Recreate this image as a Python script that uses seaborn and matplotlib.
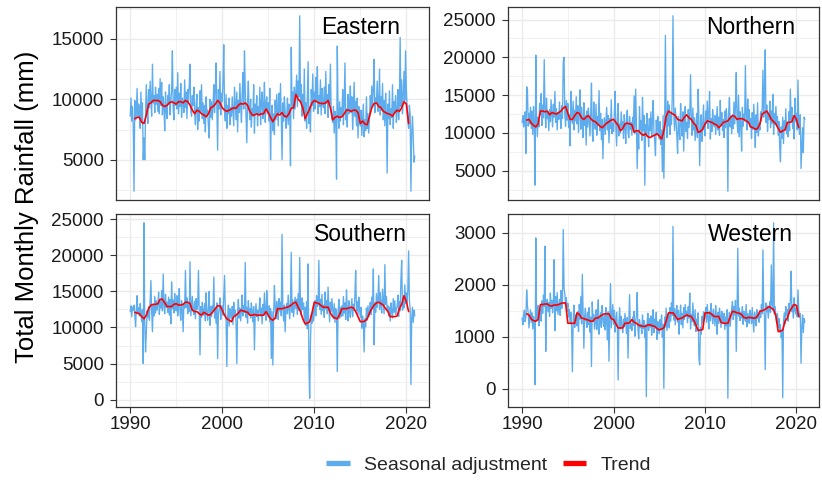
import numpy as np
import pandas as pd
import matplotlib
matplotlib.use("Agg")
import matplotlib.pyplot as plt
import matplotlib.dates as mdates
from matplotlib.ticker import MultipleLocator, FuncFormatter
from matplotlib.lines import Line2D
import seaborn as sns

# ---------------- data ----------------
regions = ["Eastern", "Northern", "Southern", "Western"]
series_labels = ["Seasonal adjustment", "Trend"]

# monthly seasonally adjusted rainfall, one row per year 1990..2020
eastern_sa = [
    [8600, 10100, 8200, 9400, 7800, 2400, 9900, 8300, 8800, 10900, 8500, 9600],
    [9200, 7600, 10600, 8300, 9700, 5000, 6800, 5000, 8700, 11200, 9100, 8000],
    [10800, 9300, 11500, 9800, 8600, 12900, 9700, 10300, 8900, 11000, 9600, 10400],
    [9000, 10900, 8800, 11700, 9500, 11400, 8700, 10200, 9300, 7400, 10600, 9100],
    [8400, 10300, 9600, 11200, 8700, 9900, 10700, 14000, 9200, 8300, 10800, 9500],
    [11000, 9200, 12200, 8800, 10500, 9400, 11300, 8500, 10100, 9700, 8900, 11600],
    [9300, 10600, 8400, 10800, 9800, 11200, 12900, 9000, 8600, 10300, 9500, 11000],
    [8800, 7900, 9600, 10400, 7500, 9300, 8200, 10700, 9000, 11200, 8400, 9700],
    [8000, 9500, 7300, 10200, 8700, 9100, 7700, 6800, 10000, 8500, 9800, 8300],
    [9600, 11200, 8900, 10600, 13000, 9400, 5800, 10800, 9200, 12300, 8700, 10500],
    [9800, 11600, 14500, 9000, 8200, 10400, 7600, 9500, 8800, 10100, 7900, 9300],
    [8600, 10200, 9100, 7800, 11000, 9600, 8300, 10600, 7300, 9900, 8900, 11300],
    [9400, 8100, 10500, 12200, 9200, 14000, 10800, 8700, 6400, 9800, 11500, 9100],
    [8300, 10000, 7700, 9200, 8600, 11200, 7200, 9600, 8900, 10300, 7800, 9400],
    [8700, 11000, 7900, 9800, 10600, 8400, 9300, 11400, 8100, 9600, 10200, 8800],
    [9700, 8200, 10900, 5000, 8600, 9500, 7400, 8800, 7100, 9900, 8300, 10400],
    [9100, 7800, 10500, 8900, 11300, 8400, 5000, 9700, 8200, 10200, 9000, 7600],
    [8500, 10100, 7900, 9600, 8800, 4500, 14300, 9300, 10600, 8400, 11000, 9200],
    [10700, 12000, 9400, 11500, 10200, 16900, 9800, 11200, 8600, 10400, 9100, 12500],
    [8200, 9700, 7600, 10300, 13100, 8000, 9400, 7300, 10800, 9500, 12100, 9000],
    [10600, 9200, 11800, 9900, 12700, 8800, 10300, 9400, 11600, 8700, 10900, 9600],
    [9300, 11000, 8800, 12300, 9700, 10400, 8500, 11200, 9600, 12900, 9100, 8400],
    [8100, 9400, 7200, 9000, 8400, 3400, 14400, 8900, 7600, 9800, 8200, 9300],
    [8700, 10800, 7900, 9500, 13000, 8300, 9200, 7700, 10400, 8800, 9600, 11100],
    [8900, 10200, 7500, 9300, 11400, 8600, 9800, 7800, 10100, 6800, 9400, 8500],
    [7800, 9100, 7000, 8400, 9600, 6900, 8300, 7400, 10200, 7600, 8800, 7200],
    [8600, 10300, 9200, 11100, 9500, 10800, 13300, 8900, 10100, 9700, 11500, 9000],
    [9400, 12500, 8700, 10200, 9100, 11300, 8300, 9900, 7800, 10500, 8600, 3900],
    [9600, 8400, 10700, 7900, 9200, 8500, 11200, 7600, 9800, 8900, 10300, 8100],
    [9000, 10800, 8300, 9700, 15100, 9400, 11600, 8800, 10200, 12300, 9900, 14000],
    [10900, 9300, 8200, 7600, 9500, 8800, 2400, 7200, 8600, 6900, 4800, 5300],
]
northern_sa = [
    [11400, 12300, 10800, 11900, 12800, 7300, 16100, 15800, 10900, 12600, 11200, 13400],
    [10600, 12900, 9800, 13500, 11100, 3100, 20300, 11700, 9500, 12100, 10800, 13900],
    [12400, 15200, 11000, 13700, 12000, 19700, 13200, 10700, 14600, 11900, 12800, 10300],
    [13100, 11500, 14400, 12600, 10800, 13800, 12100, 15500, 11400, 13200, 10400, 12700],
    [11800, 14100, 12300, 10600, 13600, 11900, 19400, 20000, 12500, 10900, 14300, 11700],
    [13900, 10700, 12400, 8300, 15500, 12800, 11300, 14200, 10400, 13000, 11600, 14800],
    [11200, 13600, 10100, 12700, 15700, 10500, 13400, 11800, 9400, 14000, 11000, 12300],
    [8400, 12900, 10800, 13300, 11700, 9600, 12500, 16600, 10200, 8900, 14100, 11300],
    [10500, 13800, 9700, 12200, 11100, 15600, 10300, 12600, 9100, 11800, 6600, 10900],
    [12000, 9800, 11600, 13400, 10400, 12300, 8700, 11900, 10600, 14400, 9900, 11300],
    [10200, 12600, 15500, 10800, 8300, 11700, 13900, 9600, 11200, 10000, 12800, 10700],
    [11500, 9300, 12400, 10900, 8600, 11800, 13000, 10100, 9400, 12200, 10500, 11400],
    [9700, 12100, 10600, 14900, 9900, 15800, 11300, 5300, 10100, 7900, 13500, 10400],
    [11600, 9000, 14700, 10300, 12300, 3100, 11100, 9600, 12600, 10700, 8200, 11900],
    [10300, 12800, 9500, 11400, 14300, 10100, 8900, 7000, 11700, 9800, 12200, 10500],
    [9200, 11500, 8500, 10400, 4900, 12300, 4000, 10600, 22900, 11800, 9400, 14200],
    [10900, 13700, 9800, 12500, 11100, 14600, 25500, 12700, 10300, 13300, 11500, 9700],
    [7300, 12200, 10400, 9100, 13900, 11200, 9600, 12800, 7600, 11500, 13500, 10200],
    [11400, 9300, 13100, 10700, 12500, 17700, 11900, 9700, 13300, 10400, 12000, 9000],
    [10800, 12600, 9400, 15800, 11700, 5700, 10300, 12400, 8900, 11100, 13700, 10500],
    [9600, 12900, 11300, 14200, 10600, 12400, 15500, 9200, 11900, 10200, 13100, 11400],
    [10900, 12300, 9800, 11600, 13500, 10400, 12100, 9700, 14300, 11000, 12700, 10300],
    [11800, 9400, 12900, 10700, 13200, 11500, 2300, 12600, 14700, 10800, 12200, 9900],
    [12400, 10600, 14100, 11200, 13600, 18000, 11700, 10100, 15000, 9500, 12800, 11300],
    [7600, 13400, 10900, 12500, 11600, 18900, 12200, 10400, 14500, 11500, 13100, 10800],
    [11900, 9300, 12700, 10500, 13800, 11200, 8100, 12400, 10100, 14000, 9600, 11300],
    [10400, 12800, 11600, 13300, 18300, 12100, 15400, 21000, 11400, 13700, 10200, 12500],
    [11800, 14200, 10700, 12900, 11300, 15100, 9800, 12600, 11100, 13500, 10900, 12200],
    [9700, 11500, 8200, 6200, 10800, 9300, 12100, 8600, 11600, 10400, 13200, 9900],
    [11200, 9500, 12800, 10300, 15800, 11700, 13400, 10600, 12300, 9200, 14600, 11500],
    [12600, 10400, 17000, 11300, 9800, 12400, 5300, 8100, 10700, 7400, 12100, 11800],
]
southern_sa = [
    [12200, 13000, 11500, 12800, 12400, 13100, 11800, 10100, 12600, 14400, 11900, 12700],
    [11600, 13300, 12000, 10800, 12500, 5000, 24500, 10700, 6600, 9200, 12300, 11400],
    [12900, 11000, 13500, 16500, 12200, 9400, 13100, 11600, 14300, 12000, 13700, 12400],
    [13200, 14900, 11800, 13600, 12700, 15100, 12300, 17400, 13000, 11900, 14600, 12800],
    [13500, 12100, 14200, 11700, 13900, 10500, 16300, 12600, 13800, 12000, 14700, 12900],
    [12300, 14400, 11600, 13200, 15400, 12100, 11000, 13700, 12500, 9400, 13300, 12700],
    [17900, 12800, 14100, 11900, 13400, 12200, 19100, 11600, 13000, 14300, 12400, 11800],
    [13600, 11200, 14000, 12500, 13100, 17900, 12000, 6200, 12900, 11400, 13500, 12100],
    [11700, 13300, 10900, 14800, 12200, 11000, 12700, 15000, 10300, 12900, 11500, 13000],
    [12400, 17000, 11300, 12800, 10600, 13400, 5700, 11900, 12600, 14100, 11100, 12900],
    [13000, 11700, 14200, 17200, 12300, 10900, 4600, 11500, 13100, 10200, 12600, 11800],
    [11200, 12900, 10400, 13500, 11800, 12400, 10700, 5000, 12200, 13900, 11300, 12700],
    [10900, 12400, 14500, 11600, 13000, 12100, 19000, 11400, 12800, 10600, 13700, 12000],
    [12600, 11300, 13400, 12200, 10800, 12900, 6900, 11800, 13300, 11500, 12400, 10900],
    [12300, 14100, 11600, 12700, 10500, 13200, 11900, 14800, 12100, 11000, 15100, 12500],
    [11400, 13000, 10800, 12600, 5700, 12200, 4800, 11700, 15800, 12900, 11200, 13600],
    [12500, 11100, 14000, 12300, 13500, 11600, 22900, 12800, 10900, 13100, 9400, 12400],
    [13300, 11900, 14500, 12700, 11200, 13600, 20400, 12100, 13800, 11500, 12900, 14200],
    [12600, 13900, 11800, 14700, 12400, 19700, 13000, 11700, 14100, 12500, 13400, 11000],
    [12800, 10300, 13600, 9800, 18800, 5000, 200, 8000, 11700, 10600, 12700, 10900],
    [12200, 13700, 11600, 14400, 12900, 13200, 19300, 12500, 13900, 11800, 14600, 12300],
    [13100, 11400, 14900, 12600, 13700, 11900, 15600, 12800, 10800, 13500, 12200, 14000],
    [12400, 11200, 13300, 10700, 12600, 11800, 3900, 12100, 13900, 11300, 12800, 11500],
    [13000, 11600, 14300, 12000, 13400, 11100, 15200, 12500, 10900, 13700, 12200, 11400],
    [12700, 14000, 11500, 13200, 12400, 14600, 17900, 12300, 13600, 11800, 14200, 12600],
    [11400, 12800, 9900, 11600, 10500, 6600, 11200, 10100, 12700, 11000, 13000, 11500],
    [12300, 13500, 11800, 14200, 12600, 18100, 7600, 13400, 12100, 14700, 12800, 13900],
    [17200, 12500, 14800, 13100, 12000, 15300, 13600, 11900, 18700, 13200, 14300, 12400],
    [13000, 11600, 12800, 10900, 13400, 12200, 11300, 14000, 12100, 13700, 11800, 12600],
    [12900, 14500, 11500, 13600, 12300, 16800, 19300, 12400, 14100, 12700, 15900, 13300],
    [14800, 13400, 15200, 20600, 13800, 12500, 2100, 11200, 12800, 10700, 12400, 11600],
]
western_sa = [
    [1360, 1230, 1420, 1510, 1290, 1380, 1900, 1600, 1450, 1170, 1340, 1520],
    [1280, 1460, 1150, 1390, 1240, 80, 2900, 1330, 1480, 1600, 1210, 1380],
    [1520, 1300, 1690, 1450, 1800, 1580, 2740, 720, 1610, 1720, 1480, 1660],
    [1390, 1840, 1550, 1700, 1460, 1620, 2480, 1120, 1770, 1500, 1850, 1430],
    [1580, 1720, 1410, 1890, 1540, 1680, 3060, 1940, 1830, 1600, 1750, 1490],
    [1640, 1380, 1520, 1250, 1470, 1150, 330, 1300, 1610, 1180, 1420, 1360],
    [1210, 1480, 1100, 1620, 1340, 1770, 1250, 2200, 1460, 780, 1390, 1550],
    [1320, 1180, 1470, 1240, 1560, 1090, 1380, 430, 1670, 1300, 1430, 1150],
    [1260, 1520, 1140, 1380, 1710, 1050, 1290, 1460, 1180, 1600, 1340, 1200],
    [1410, 1130, 1560, 1290, 940, 1480, 530, 1350, 2020, 1170, 1400, 1620],
    [1240, 1510, 1090, 1330, 1470, 1180, 170, 1260, 1560, 1150, 1390, 1220],
    [1080, 1340, 1190, 1450, 1260, 1060, 1370, 590, 1290, 1810, 1160, 1250],
    [1120, 1380, 1220, 1490, 1010, 1290, 1410, 1850, 1140, 960, 1330, 1180],
    [1240, 1060, 1420, 1160, 1310, 980, 1230, -150, 1280, 1450, 1120, 1350],
    [1190, 1400, 1030, 1260, 1520, 1080, 1340, 1170, 1470, 950, 1290, 1210],
    [1060, 1330, 1150, 1420, 990, 1240, 10, 1380, 1190, 1550, 1120, 1280],
    [1430, 1170, 1560, 1300, 1650, 1410, 3120, 1320, 1540, 1230, 1470, 1600],
    [1280, 1510, 1050, 1390, 1610, 1240, 1450, 1170, 1560, 1330, 1620, 1400],
    [1490, 1270, 1580, 1360, 1840, 1150, 1430, 1290, 1650, 1380, 1210, 1520],
    [1100, 1340, 1230, 1460, 590, 460, 1180, 1050, 1390, 1270, 1480, 1320],
    [1410, 1560, 1280, 1620, 1370, 1150, 1490, 1310, 1640, 1420, 1250, 1530],
    [1380, 1210, 1600, 1340, 1050, 1470, 1260, 1550, 1410, 1180, 1490, 1330],
    [1260, 1450, 1140, 1380, 1210, 1520, -180, 1310, 1470, 1200, 1390, 1550],
    [1680, 1330, 1580, 1420, 1700, 720, 1450, 2700, 1400, 1550, 1310, 1470],
    [1360, 1580, 1240, 1490, 1410, 1300, 1620, 1190, 1450, 1370, 1260, 1510],
    [1430, 1250, 1560, 1320, 1090, 1470, 1380, 1210, 1520, 1350, 1440, 1280],
    [1500, 1370, 1620, 1440, 2670, 1550, 1400, 370, 1650, 1480, 1590, 1360],
    [1530, 1680, 1470, 2380, 1620, 1510, 3190, 1440, 1580, 1390, 1260, 1450],
    [1180, 1350, 1090, 1230, 980, 1120, -170, 1300, 1460, 1250, 1580, 1400],
    [1520, 1300, 1640, 1450, 1700, 2260, 1480, 1610, 1360, 1750, 1520, 1440],
    [1560, 1380, 1900, 1510, 1370, 1450, 490, 1190, 1420, 1080, 1350, 1280],
]

# quarterly trend readings, Jul 1990 .. Apr 2020
eastern_trend = [
    8400, 8500,
    8500, 8100, 8000, 8700,  9600, 9700, 9900, 9900,  9900, 9800, 9500, 9400,
    9500, 9700, 9800, 9700,  9600, 9800, 9800, 9700,  9900, 9800, 9500, 9100,
    8800, 9100, 9000, 8800,  8700, 8550, 8800, 9300,  9400, 9600, 9900, 9700,
    9300, 9100, 9000, 9100,  9200, 9300, 9250, 9500,  9650, 9600, 9700, 9500,
    9000, 8700, 8700, 8800,  8700, 8800, 8800, 9200,  8900, 8500, 8150, 8500,
    8800, 8700, 8900, 8600,  8550, 8800, 9250, 9300,  10400, 10000, 9800, 9300,
    8400, 8800, 9200, 9700,  9900, 9800, 9700, 9650,  9650, 9700, 9900, 9300,
    8300, 8500, 8600, 8500,  8550, 8800, 9100, 9100,  9000, 9100, 9100, 8900,
    8000, 8200, 7950, 7900,  8600, 9300, 9650, 9700,  9400, 9300, 9000, 8900,
    8800, 8750, 8600, 8900,  9100, 9000, 9300, 9800,
    9600, 8000,
]
northern_trend = [
    11700, 11800,
    11300, 11000, 10800, 11200,  12900, 12900, 12800, 12900,  12400, 12700, 12600, 12500,
    12700, 12900, 13300, 13500,  12600, 11800, 11800, 12300,  12700, 12600, 12000, 11800,
    12100, 12300, 11900, 11600,  11500, 11200, 10900, 10700,  11000, 11300, 11500, 11700,
    11800, 11400, 11000, 10300,  10600, 11200, 11300, 11200,  11100, 10100, 10300, 10300,
    9900, 9700, 9900, 9500,  9400, 9600, 9700, 9900,  9600, 9200, 10300, 12200,
    12900, 12700, 12500, 12300,  11800, 11700, 11600, 12100,  12400, 12000, 11800, 11300,
    11000, 10100, 10200, 10500,  11200, 11600, 11500, 11400,  11200, 11100, 10700, 11000,
    11400, 11500, 11600, 12000,  12300, 12200, 11800, 11900,  11900, 11800, 11600, 11400,
    10800, 10700, 10500, 10600,  11200, 12500, 12700, 12900,  12400, 11800, 11500, 11200,
    10600, 10100, 10300, 10400,  11400, 11400, 11500, 12300,
    11800, 10700,
]
southern_trend = [
    12100, 12000,
    11900, 11500, 11200, 11700,  12600, 13100, 13200, 13200,  13300, 13900, 13900, 13400,
    12900, 12900, 12900, 13200,  13300, 13100, 13100, 13200,  13500, 13500, 13300, 12400,
    12200, 12200, 11900, 11700,  12100, 11900, 11700, 11800,  12200, 12600, 13000, 13000,
    12400, 11700, 11200, 11000,  10800, 11500, 11700, 12000,  12400, 12300, 12200, 12100,
    11700, 11700, 11800, 11700,  11700, 11700, 11700, 12200,  11700, 11200, 11000, 11300,
    12600, 12600, 12600, 12700,  12800, 12900, 13100, 13400,  13500, 12800, 12200, 11200,
    10500, 10600, 10800, 12000,  13500, 13400, 13300, 13000,  12800, 12800, 12800, 12000,
    11500, 11300, 11200, 11800,  12600, 12600, 12600, 12700,  12800, 12700, 12200, 11500,
    10800, 10800, 10900, 11200,  12000, 12600, 13100, 13400,  13500, 13300, 13100, 12600,
    12200, 11500, 11500, 11500,  11600, 12600, 13200, 14400,
    13600, 12200,
]
western_trend = [
    1440, 1420,
    1340, 1310, 1300, 1330,  1620, 1620, 1630, 1630,  1600, 1590, 1610, 1610,
    1620, 1640, 1650, 1650,  1260, 1260, 1260, 1260,  1460, 1430, 1360, 1350,
    1330, 1320, 1300, 1300,  1360, 1360, 1390, 1420,  1440, 1440, 1440, 1350,
    1330, 1250, 1170, 1170,  1170, 1260, 1260, 1270,  1330, 1280, 1260, 1220,
    1210, 1200, 1200, 1230,  1230, 1210, 1200, 1160,  1130, 1150, 1170, 1300,
    1460, 1460, 1460, 1400,  1330, 1350, 1360, 1390,  1420, 1400, 1390, 1320,
    1230, 1120, 1130, 1140,  1460, 1460, 1460, 1430,  1390, 1390, 1390, 1280,
    1260, 1260, 1260, 1380,  1490, 1480, 1460, 1450,  1430, 1370, 1360, 1370,
    1370, 1360, 1360, 1400,  1490, 1500, 1520, 1550,  1580, 1550, 1520, 1400,
    1100, 1110, 1130, 1300,  1360, 1490, 1560, 1620,
    1600, 1390,
]

sa_values = {"Eastern": eastern_sa, "Northern": northern_sa,
             "Southern": southern_sa, "Western": western_sa}
trend_values = {"Eastern": eastern_trend, "Northern": northern_trend,
                "Southern": southern_trend, "Western": western_trend}
y_major = {"Eastern": 5000, "Northern": 5000, "Southern": 5000, "Western": 1000}

month_dates = pd.date_range("1990-01-01", "2020-12-01", freq="MS")
trend_dates = pd.date_range("1990-07-01", "2020-04-01", freq="3MS")

frames = []
for r in regions:
    frames.append(pd.DataFrame({"region": r, "date": month_dates,
                                "value": np.array(sa_values[r]).ravel(),
                                "component": series_labels[0]}))
    frames.append(pd.DataFrame({"region": r, "date": trend_dates,
                                "value": trend_values[r],
                                "component": series_labels[1]}))
df = pd.concat(frames, ignore_index=True)

# ---------------- styling ----------------
sns.set_theme(style="white")
plt.rcParams["font.family"] = ["Liberation Sans", "DejaVu Sans"]

BLUE = "#5CACEE"
RED = "#FF0000"
palette = {series_labels[0]: BLUE, series_labels[1]: RED}
GRID = "#EBEBEB"
DARK = "#333333"

W, H = 822, 480
fig = plt.figure(figsize=(W / 100, H / 100), dpi=100)

boxes = {  # left, right, top, bottom in pixels
    "Eastern": (116, 429, 7, 200),
    "Northern": (508, 819, 7, 200),
    "Southern": (116, 429, 214, 407),
    "Western": (508, 819, 214, 407),
}

for r in regions:
    l, rr, t, b = boxes[r]
    ax = fig.add_axes([l / W, 1 - b / H, (rr - l) / W, (b - t) / H])
    sub = df[df.region == r]
    sns.lineplot(data=sub, x="date", y="value", hue="component",
                 hue_order=series_labels, palette=palette, estimator=None,
                 legend=False, ax=ax, linewidth=0.95)
    for ln, lw in zip(ax.get_lines(), [0.95, 1.2]):
        ln.set_linewidth(lw)
    ax.margins(x=0.05, y=0.05)
    ax.set_xlabel("")
    ax.set_ylabel("")
    ax.xaxis.set_major_locator(mdates.YearLocator(10))
    ax.xaxis.set_minor_locator(mdates.YearLocator(5))
    ax.xaxis.set_major_formatter(mdates.DateFormatter("%Y"))
    ax.yaxis.set_major_locator(MultipleLocator(y_major[r]))
    ax.yaxis.set_minor_locator(MultipleLocator(y_major[r] / 2))
    ax.yaxis.set_major_formatter(FuncFormatter(lambda v, p: f"{int(round(v))}"))
    ax.set_axisbelow(True)
    ax.grid(which="major", color=GRID, linewidth=1.0)
    ax.grid(which="minor", color=GRID, linewidth=0.5)
    for s in ax.spines.values():
        s.set_color(DARK)
        s.set_linewidth(0.9)
    ax.tick_params(axis="y", which="major", direction="out", length=4.3,
                   width=0.8, color=DARK, labelsize=13.5, labelcolor="#1A1A1A",
                   pad=4.5, left=True)
    ax.tick_params(axis="y", which="minor", left=False)
    if r in ("Southern", "Western"):
        ax.tick_params(axis="x", which="major", direction="out", length=4.3,
                       width=0.8, color=DARK, labelsize=13.5,
                       labelcolor="#1A1A1A", pad=2.0, bottom=True)
    else:
        ax.tick_params(axis="x", which="major", bottom=False, labelbottom=False)
    ax.tick_params(axis="x", which="minor", bottom=False)
    ax.text(pd.Timestamp("2015-01-01"), 0.862, r,
            transform=ax.get_xaxis_transform(), ha="center", va="baseline",
            fontsize=16.5, color="black")

fig.text(27 / W, 1 - 207 / H, "Total Monthly Rainfall (mm)", rotation=90,
         ha="center", va="center", fontsize=18.5, color="black")

handles = [Line2D([0], [0], color=BLUE, lw=3.8, solid_capstyle="butt"),
           Line2D([0], [0], color=RED, lw=3.8, solid_capstyle="butt")]
fig.legend(handles, series_labels, loc="center",
           bbox_to_anchor=(489 / W, 1 - 465 / H), ncol=2, frameon=False,
           fontsize=14, handlelength=1.2, handletextpad=0.75,
           columnspacing=0.8, borderaxespad=0, borderpad=0)

fig.savefig("out.png", dpi=100)
